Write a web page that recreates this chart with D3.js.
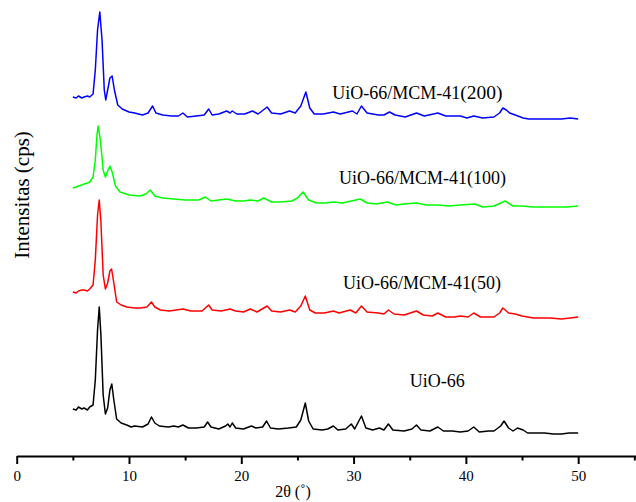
<!DOCTYPE html>
<html>
<head>
<meta charset="utf-8">
<script src="https://cdn.jsdelivr.net/npm/d3@7"></script>
<style>
  html, body { margin: 0; padding: 0; background: #fff; }
  svg { display: block; }
</style>
</head>
<body>
<svg id="chart" width="636" height="502"></svg>
<script>
// ---- data: [2θ (deg), intensity (offset, arbitrary units)] ----
const seriesNames = ["UiO-66", "UiO-66/MCM-41(50)", "UiO-66/MCM-41(100)", "UiO-66/MCM-41(200)"];
const seriesColors = ["#000000", "#ff0000", "#00ff00", "#0000ff"];

const uio66 = [
  [5.0,47],[5.3,46],[5.5,49],[5.8,47],[6.0,48],[6.3,46],[6.5,49],[6.8,51],[7.0,76],[7.2,126],[7.35,149],[7.5,121],[7.7,61],[7.9,42],
  [8.1,48],[8.3,66],[8.47,72],[8.65,56],[8.9,37],[9.3,33],[9.8,31],[10.2,29],[10.5,30],[11.2,29],[11.7,32],[12.0,39],[12.3,33],
  [12.7,30],[13.5,29],[14.0,30],[14.4,29],[14.8,31],[15.3,28],[16.0,28],[16.7,29],[17.0,34],[17.3,29],[18.0,27],[18.6,30],
  [18.8,32],[19.0,29],[19.2,33],[19.5,28],[20.2,27],[20.9,30],[21.3,28],[21.9,29],[22.25,35],[22.6,28],[23.3,27],[24.2,28],
  [24.9,29],[25.3,36],[25.7,53],[26.0,35],[26.4,27],[27.2,26],[27.7,27],[28.2,30],[28.6,26],[29.3,27],[29.8,32],[30.1,27],
  [30.7,40],[31.1,28],[31.7,26],[32.3,28],[32.7,26],[33.1,32],[33.5,26],[34.5,25],[35.2,27],[35.6,31],[36.0,26],[36.8,25],
  [37.5,29],[38.0,25],[38.8,25],[39.5,24],[40.2,25],[40.7,29],[41.2,24],[42.0,25],[42.5,25],[43.1,30],[43.4,35],[43.8,28],
  [44.2,25],[44.6,28],[45.1,26],[45.5,23],[46.2,23],[47.0,23],[47.8,22],[48.5,22],[49.2,23],[50.0,23]
];

const uio66mcm50 = [
  [5.0,164],[5.3,163],[5.5,165],[5.8,166],[6.0,166],[6.3,165],[6.5,167],[6.8,171],[7.0,196],[7.2,241],[7.35,256],[7.5,234],
  [7.7,181],[7.9,167],[8.1,173],[8.3,185],[8.45,187],[8.65,173],[8.9,154],[9.3,151],[9.8,149],[10.5,148],[11.0,148],[11.6,149],
  [12.0,154],[12.3,149],[12.8,146],[13.6,145],[14.2,146],[14.8,147],[15.5,145],[16.5,145],[17.1,151],[17.4,146],[18.2,145],
  [19.0,147],[19.5,145],[20.2,144],[20.8,147],[21.4,144],[22.3,150],[22.7,145],[23.5,144],[24.3,146],[24.8,144],[25.3,150],
  [25.7,160],[26.1,146],[26.6,143],[27.4,143],[28.2,145],[28.7,143],[29.7,146],[30.2,143],[30.7,150],[31.2,144],[32.2,143],
  [32.7,142],[33.1,146],[33.6,142],[34.5,141],[35.6,145],[36.2,141],[37.0,140],[37.5,143],[38.2,139],[39.0,139],[39.5,140],
  [40.2,139],[40.7,143],[41.3,139],[42.5,139],[43.0,143],[43.3,148],[43.8,143],[44.4,142],[45.0,140],[46.0,138],[47.5,138],
  [48.5,137],[49.3,138],[50.0,139]
];

const uio66mcm100 = [
  [5.0,268],[5.3,269],[5.5,270],[5.8,271],[6.0,272],[6.3,273],[6.5,274],[6.8,279],[7.0,296],[7.15,321],[7.25,330],[7.45,316],
  [7.7,286],[7.9,279],[8.1,285],[8.3,290],[8.5,284],[8.8,270],[9.2,264],[10.0,261],[11.0,260],[11.5,262],[11.9,266],[12.3,260],
  [13.0,258],[14.0,257],[15.0,256],[16.2,256],[16.8,259],[17.3,255],[18.0,256],[18.7,257],[19.5,255],[20.2,255],[20.8,256],
  [21.5,255],[22.0,258],[22.7,254],[23.5,254],[24.5,255],[25.0,258],[25.5,264],[26.0,256],[26.7,253],[27.5,253],[28.2,254],
  [29.0,253],[29.8,255],[30.6,257],[31.2,253],[32.0,252],[33.0,254],[33.8,251],[34.5,252],[35.6,253],[36.5,251],[37.5,251],
  [38.5,250],[39.5,251],[40.8,252],[41.5,249],[42.5,250],[43.5,255],[44.2,250],[45.0,250],[46.0,249],[47.5,249],[49.0,249],
  [50.0,250]
];

const uio66mcm200 = [
  [5.0,359],[5.3,358],[5.5,360],[5.8,358],[6.0,359],[6.3,360],[6.5,359],[6.8,362],[7.0,386],[7.2,426],[7.4,444],[7.6,416],
  [7.8,366],[7.93,356],[8.1,366],[8.3,378],[8.5,380],[8.7,366],[9.0,351],[9.4,347],[10.0,344],[10.5,343],[11.2,341],[11.7,343],
  [12.1,350],[12.4,343],[13.0,341],[13.8,340],[14.4,340],[14.8,343],[15.2,339],[16.0,340],[16.7,341],[17.1,347],[17.4,341],
  [18.0,342],[18.7,345],[19.0,343],[19.2,345],[19.6,342],[20.3,342],[21.0,345],[21.5,342],[22.3,349],[22.7,343],[23.5,342],
  [24.3,345],[24.8,343],[25.3,350],[25.75,364],[26.1,348],[26.5,342],[27.3,342],[28.2,344],[28.8,342],[29.9,345],[30.3,342],
  [30.7,350],[31.2,343],[32.2,341],[32.7,341],[33.2,344],[33.7,341],[34.6,339],[35.6,343],[36.3,340],[37.5,343],[38.2,340],
  [39.5,340],[40.1,338],[40.7,340],[41.5,338],[42.5,339],[43.0,343],[43.3,348],[43.6,346],[43.9,343],[44.4,341],[45.1,338],
  [45.6,337],[46.5,337],[47.0,337],[48.0,337],[48.5,337],[49.3,338],[50.0,337]
];

const allSeries = [uio66, uio66mcm50, uio66mcm100, uio66mcm200];

const xTicks = [0, 5, 10, 15, 20, 25, 30, 35, 40, 45, 50, 55];
const xTickLabels = ["0", "", "10", "", "20", "", "30", "", "40", "", "50", ""];
const xTitle = "2θ (˚)";
const yTitle = "Intensitas (cps)";

// label anchors in data units: [2θ, intensity]
const labelPos = [[35.0, 69], [29.05, 167], [28.7, 272], [28.1, 357]];

// ---- drawing ----
const svg = d3.select("#chart");
const font = "'Liberation Serif', 'Times New Roman', Times, serif";

const x = d3.scaleLinear().domain([0, 55.15]).range([16.7, 636]);
const y = d3.scaleLinear().domain([0, 450]).range([456, 6]);

const line = d3.line().x(d => x(d[0])).y(d => y(d[1]));

svg.selectAll("path.series")
  .data(allSeries)
  .join("path")
  .attr("class", "series")
  .attr("d", line)
  .attr("fill", "none")
  .attr("stroke", (d, i) => seriesColors[i])
  .attr("stroke-width", 1.5)
  .attr("stroke-linejoin", "round");

// x axis
const axis = d3.axisBottom(x)
  .tickValues(xTicks)
  .tickSize(8)
  .tickSizeOuter(0)
  .tickFormat((d, i) => xTickLabels[i]);

const gx = svg.append("g")
  .attr("transform", `translate(0,${y(0)})`)
  .call(axis);
gx.select(".domain").attr("stroke", "#000").attr("stroke-width", 2);
gx.selectAll(".tick line")
  .attr("stroke", "#000")
  .attr("stroke-width", 2)
  .attr("y2", (d, i) => xTickLabels[i] === "" ? 4.5 : 8);
gx.selectAll(".tick text")
  .attr("y", 14)
  .attr("dy", "0.71em")
  .attr("font-family", font)
  .attr("font-size", 15)
  .attr("fill", "#000");

// axis titles
svg.append("text")
  .attr("x", 293)
  .attr("y", 497)
  .attr("text-anchor", "middle")
  .attr("font-family", font)
  .attr("font-size", 16)
  .attr("fill", "#000")
  .text(xTitle);

svg.append("text")
  .attr("transform", "translate(29,195) rotate(-90)")
  .attr("text-anchor", "middle")
  .attr("font-family", font)
  .attr("font-size", 21)
  .attr("fill", "#000")
  .text(yTitle);

// series labels
seriesNames.forEach((name, i) => {
  const t = svg.append("text")
    .attr("x", x(labelPos[i][0]))
    .attr("y", y(labelPos[i][1]))
    .attr("font-family", font)
    .attr("font-size", 18)
    .attr("fill", "#000");
  if (i === 3) {
    t.append("tspan").text("UiO-66/MCM-41");
    t.append("tspan").attr("font-size", 19.5).text("(200)");
  } else {
    t.text(name);
  }
});
</script>
</body>
</html>
